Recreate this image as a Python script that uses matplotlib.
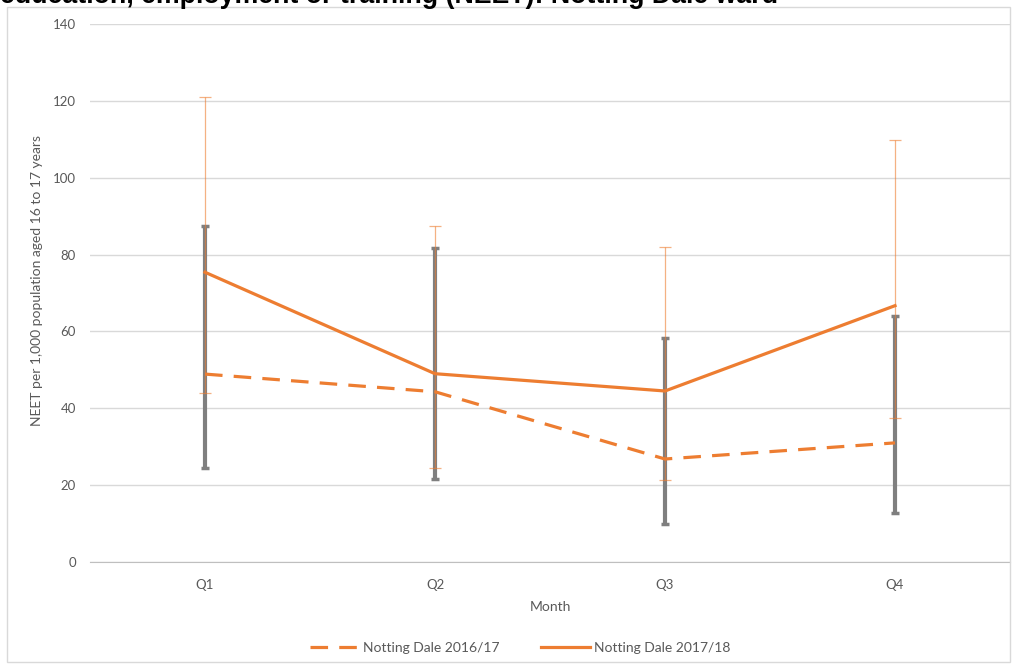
import matplotlib
matplotlib.use("Agg")
import matplotlib.pyplot as plt
from matplotlib.patches import Rectangle
from matplotlib.lines import Line2D

quarters = ["Q1", "Q2", "Q3", "Q4"]
rate_1617 = [48.9, 44.3, 26.8, 31.0]
low_1617 = [24.4, 21.5, 9.8, 12.7]
high_1617 = [87.5, 81.8, 58.2, 64.0]
rate_1718 = [75.4, 49.0, 44.5, 66.7]
low_1718 = [44.1, 24.4, 21.3, 37.4]
high_1718 = [120.9, 87.5, 82.0, 109.7]
yticks = [0, 20, 40, 60, 80, 100, 120, 140]

orange = "#ED7D31"
grey = "#7F7F7F"
txt = "#595959"
dash = (0, (5.5, 3.5))
plt.rcParams["font.family"] = ["Lato", "DejaVu Sans"]

fig = plt.figure(figsize=(10.13, 6.66), dpi=100)
W, H = 1013, 666
ax = fig.add_axes([90 / W, (H - 562) / H, 920 / W, 538 / H])

x = list(range(len(quarters)))

err1 = [[r - l for r, l in zip(rate_1617, low_1617)], [h - r for r, h in zip(rate_1617, high_1617)]]
err2 = [[r - l for r, l in zip(rate_1718, low_1718)], [h - r for r, h in zip(rate_1718, high_1718)]]

ax.errorbar(x, rate_1617, yerr=err1, fmt="none", ecolor=grey, elinewidth=3, capsize=3, capthick=2.5, zorder=3)
ax.errorbar(x, rate_1718, yerr=err2, fmt="none", ecolor=orange, alpha=0.6, elinewidth=0.9, capsize=4, capthick=0.9, zorder=3)
ax.plot(x, rate_1617, color=orange, lw=2.3, ls=dash, zorder=4, label="Notting Dale 2016/17")
ax.plot(x, rate_1718, color=orange, lw=2.3, zorder=5, label="Notting Dale 2017/18")

ax.set_xlim(-0.5, 3.5)
ax.set_ylim(0, 140)
ax.set_yticks(yticks)
ax.set_xticks(x)
ax.set_xticklabels(quarters)
ax.grid(axis="y", color="#D9D9D9", lw=1)
ax.set_axisbelow(True)
for s in ["left", "right", "top"]:
    ax.spines[s].set_visible(False)
ax.spines["bottom"].set_color("#BFBFBF")
ax.tick_params(axis="both", length=0, labelsize=9.5, colors=txt, pad=10)
ax.tick_params(axis="x", pad=12)

fig.text(37 / W, 1 - 280 / H, "NEET per 1,000 population aged 16 to 17 years", rotation=90,
         ha="center", va="center", fontsize=10, color=txt)
fig.text(550 / W, 1 - 607 / H, "Month", ha="center", va="center", fontsize=10, color=txt)

handles = [Line2D([], [], color=orange, lw=2.3, ls=dash), Line2D([], [], color=orange, lw=2.3)]
fig.legend(handles, ["Notting Dale 2016/17", "Notting Dale 2017/18"], loc="center",
           bbox_to_anchor=(520 / W, 1 - 648 / H), ncol=2, frameon=False, fontsize=10,
           labelcolor=txt, handlelength=3.5, columnspacing=3, handletextpad=0.3)

fig.patches.append(Rectangle((7 / W, 4 / H), 1003 / W, 655 / H, transform=fig.transFigure,
                             fill=False, edgecolor="#D9D9D9", lw=1))

fig.text(0, 1 - 3 / H, "education, employment or training (NEET): Notting Dale ward",
         ha="left", va="baseline", fontsize=19.3, fontweight="bold", family="Liberation Sans", color="black")

fig.savefig("out.png", dpi=100)
